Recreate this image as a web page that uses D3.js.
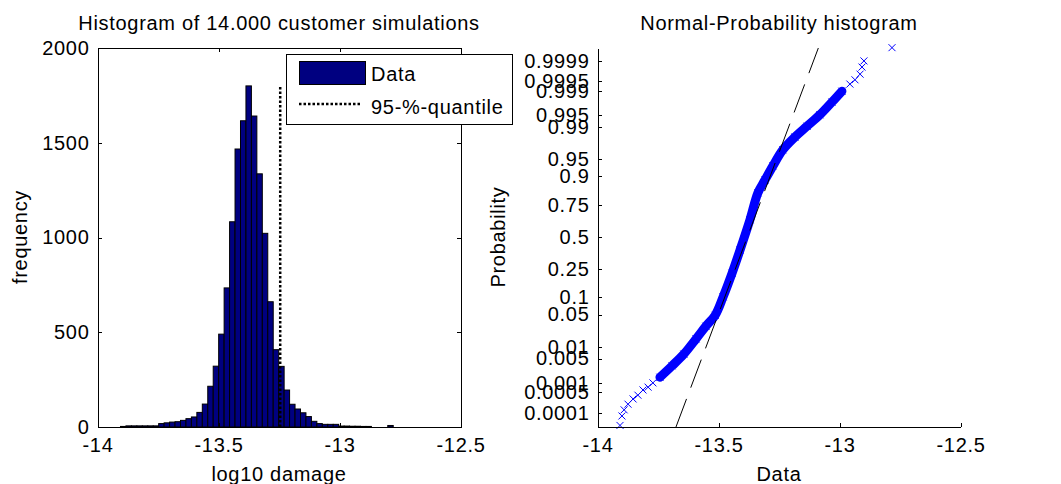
<!DOCTYPE html>
<html lang="en">
<head>
<meta charset="UTF-8">
<title>Customer simulations</title>
<script src="https://d3js.org/d3.v7.min.js"></script>
<style>
    body { margin: 0; background: #fff; }
    svg { display: block; font-family: "Liberation Sans", Arial, sans-serif; }
    text { font-size: 20px; fill: #000; letter-spacing: 0.7px; }
    .domain, .tick line { stroke: #000; shape-rendering: crispEdges; }
</style>
</head>
<body>
<svg width="1061" height="484"></svg>
<script>
    // histogram: 50 equal bins between smallest and largest simulated damage
    const dataMin = -13.905, dataMax = -12.778;
    const binCounts = [3, 6, 6, 6, 6, 6, 6, 18, 22, 26, 28, 35, 44, 53, 77, 121, 215, 321, 490, 734,
                       1083, 1467, 1616, 1800, 1641, 1336, 1022, 661, 408, 320, 195, 120, 95, 75, 55, 30,
                       18, 14, 14, 14, 5, 5, 4, 4, 3, 3, 0, 0, 0, 8];
    const quantile95 = -13.245;
    const xTicks = [-14, -13.5, -13, -12.5];
    const freqTicks = [0, 500, 1000, 1500, 2000];
    const legendLabels = ["Data", "95-%-quantile"];

    // normal probability plot: sorted data vs. normal score
    const qqValue = [-13.907, -13.899, -13.890, -13.874, -13.853, -13.833, -13.812, -13.791, -13.771,
                     -13.742, -13.692, -13.643, -13.593, -13.552, -13.514, -13.481, -13.444, -13.411, -13.370,
                     -13.337, -13.308, -13.275, -13.234, -13.184, -13.134, -13.081, -13.031, -12.990,
                     -12.957, -12.936, -12.915, -12.907, -12.899, -12.783];
    const qqScore = [-3.99, -3.79, -3.66, -3.54, -3.43, -3.35, -3.24, -3.18, -3.09,
                     -2.97, -2.73, -2.48, -2.16, -1.89, -1.66, -1.27, -0.77, -0.28, 0.36,
                     0.93, 1.20, 1.50, 1.84, 2.11, 2.34, 2.58, 2.85, 3.08,
                     3.23, 3.32, 3.44, 3.59, 3.72, 4.00];
    const quartiles = [-13.430, -13.331];   // data at p = 0.25 and p = 0.75
    const probTicks = [0.0001, 0.0005, 0.001, 0.005, 0.01, 0.05, 0.1, 0.25, 0.5, 0.75,
                       0.9, 0.95, 0.99, 0.995, 0.999, 0.9995, 0.9999];

    // inverse normal cdf (Acklam)
    function norminv(p) {
        const a = [-39.69683028665376, 220.9460984245205, -275.9285104469687, 138.3577518672690, -30.66479806614716, 2.506628277459239];
        const b = [-54.47609879822406, 161.5858368580409, -155.6989798598866, 66.80131188771972, -13.28068155288572];
        const c = [-0.007784894002430293, -0.3223964580411365, -2.400758277161838, -2.549732539343734, 4.374664141464968, 2.938163982698783];
        const d = [0.007784695709041462, 0.3224671290700398, 2.445134137142996, 3.754408661907416];
        const tail = q => (((((c[0]*q+c[1])*q+c[2])*q+c[3])*q+c[4])*q+c[5]) / ((((d[0]*q+d[1])*q+d[2])*q+d[3])*q+1);
        if (p < 0.02425) return tail(Math.sqrt(-2 * Math.log(p)));
        if (p > 1 - 0.02425) return -tail(Math.sqrt(-2 * Math.log(1 - p)));
        const q = p - 0.5, r = q * q;
        return (((((a[0]*r+a[1])*r+a[2])*r+a[3])*r+a[4])*r+a[5])*q / (((((b[0]*r+b[1])*r+b[2])*r+b[3])*r+b[4])*r+1);
    }

    const svg = d3.select("svg");
    const yTop = 48, yBottom = 427;
    const plain = d => String(d);   // matlab style: hyphen minus, no grouping

    // ---------- left: histogram ----------
    const x1 = d3.scaleLinear().domain([-14, -12.5]).range([97.5, 460.5]);
    const y1 = d3.scaleLinear().domain([0, 2000]).range([yBottom, yTop]);
    const binW = (dataMax - dataMin) / binCounts.length;

    const g1 = svg.append("g");
    g1.selectAll("rect.bar")
      .data(binCounts)
      .enter().append("rect")
        .attr("class", "bar")
        .attr("x", (d, i) => x1(dataMin + i * binW))
        .attr("width", x1(dataMin + binW) - x1(dataMin))
        .attr("y", d => y1(d))
        .attr("height", d => y1(0) - y1(d))
        .attr("fill", "#000080")
        .attr("stroke", "#000")
        .attr("stroke-width", 1);

    g1.append("line")
        .attr("x1", x1(quantile95)).attr("x2", x1(quantile95))
        .attr("y1", y1(0)).attr("y2", y1(d3.max(binCounts)))
        .attr("stroke", "#000").attr("stroke-width", 2.5)
        .attr("stroke-dasharray", "2.5,2");

    // box with inward ticks
    g1.append("g").attr("transform", `translate(0,${yBottom})`)
        .call(d3.axisBottom(x1).tickValues(xTicks).tickFormat(plain).tickSizeInner(-4).tickSizeOuter(0).tickPadding(11));
    g1.append("g").attr("transform", `translate(0,${yTop})`)
        .call(d3.axisTop(x1).tickValues(xTicks).tickFormat("").tickSizeInner(-4).tickSizeOuter(0));
    g1.append("g").attr("transform", "translate(97.5,0)")
        .call(d3.axisLeft(y1).tickValues(freqTicks).tickFormat(plain).tickSizeInner(-4).tickSizeOuter(0).tickPadding(8));
    g1.append("g").attr("transform", "translate(460.5,0)")
        .call(d3.axisRight(y1).tickValues(freqTicks).tickFormat("").tickSizeInner(-4).tickSizeOuter(0));

    g1.append("text").attr("x", 279).attr("y", 30).attr("text-anchor", "middle")
        .text("Histogram of 14.000 customer simulations");
    g1.append("text").attr("x", 279).attr("y", 481).attr("text-anchor", "middle").text("log10 damage");
    g1.append("text").attr("transform", "translate(27,237) rotate(-90)").attr("text-anchor", "middle").text("frequency");

    // legend
    const lg = g1.append("g");
    lg.append("rect").attr("x", 286.5).attr("y", 54.5).attr("width", 226).attr("height", 70)
        .attr("fill", "#fff").attr("stroke", "#000");
    lg.append("rect").attr("x", 299.5).attr("y", 61.5).attr("width", 66).attr("height", 23)
        .attr("fill", "#000080").attr("stroke", "#000");
    lg.append("line").attr("x1", 299).attr("x2", 361).attr("y1", 104).attr("y2", 104)
        .attr("stroke", "#000").attr("stroke-width", 2.5).attr("stroke-dasharray", "2.5,2");
    lg.selectAll("text.leg").data(legendLabels).enter().append("text")
        .attr("class", "leg").attr("x", 371).attr("y", (d, i) => 81 + i * 33).text(d => d);

    // ---------- right: normal probability plot ----------
    const x2 = d3.scaleLinear().domain([-14, -12.5]).range([597.5, 960.5]);
    const y2 = d3.scaleLinear().domain([-4.023, 3.993]).range([yBottom, yTop]);
    const g2 = svg.append("g");

    const pts = qqValue.map((v, i) => [v, qqScore[i]]);
    // dense middle: the markers merge into a solid band
    const band = pts.filter(p => p[1] >= -3.0 && p[1] <= 3.1);
    g2.append("path")
        .datum(band)
        .attr("fill", "none")
        .attr("stroke", "#0000ff")
        .attr("stroke-width", 9)
        .attr("stroke-linecap", "round")
        .attr("d", d3.line().x(p => x2(p[0])).y(p => y2(p[1])).curve(d3.curveCatmullRom));

    g2.selectAll("path.mk")
      .data(pts)
      .enter().append("path")
        .attr("class", "mk")
        .attr("transform", p => `translate(${x2(p[0])},${y2(p[1])})`)
        .attr("d", "M-3.5,-3.5L3.5,3.5M-3.5,3.5L3.5,-3.5")
        .attr("stroke", "#0000ff")
        .attr("stroke-width", 1)
        .attr("fill", "none");

    // reference line through the quartiles, extended to the plot limits (drawn over the data)
    const qz = [norminv(0.25), norminv(0.75)];
    const slope = (quartiles[1] - quartiles[0]) / (qz[1] - qz[0]);
    const lineAt = z => quartiles[0] + (z - qz[0]) * slope;
    const zr = y2.domain();
    g2.append("line")
        .attr("x1", x2(lineAt(zr[0]))).attr("y1", y2(zr[0]))
        .attr("x2", x2(lineAt(zr[1]))).attr("y2", y2(zr[1]))
        .attr("stroke", "#000").attr("stroke-width", 1)
        .attr("stroke-dasharray", "30,12");

    g2.append("g").attr("transform", `translate(0,${yBottom})`)
        .call(d3.axisBottom(x2).tickValues(xTicks).tickFormat(plain).tickSizeInner(-4).tickSizeOuter(0).tickPadding(11));
    g2.append("g").attr("transform", "translate(597.5,0)")
        .call(d3.axisLeft(y2).tickValues(probTicks.map(norminv)).tickFormat((d, i) => String(probTicks[i]))
            .tickSizeInner(-4).tickSizeOuter(0).tickPadding(8));

    g2.append("text").attr("x", 779).attr("y", 30).attr("text-anchor", "middle").text("Normal-Probability histogram");
    g2.append("text").attr("x", 779).attr("y", 481).attr("text-anchor", "middle").text("Data");
    g2.append("text").attr("transform", "translate(505,237) rotate(-90)").attr("text-anchor", "middle").text("Probability");

    svg.selectAll(".tick text").attr("font-size", null).style("font-family", null);
    svg.selectAll(".domain").attr("stroke", "#000");
</script>
</body>
</html>
